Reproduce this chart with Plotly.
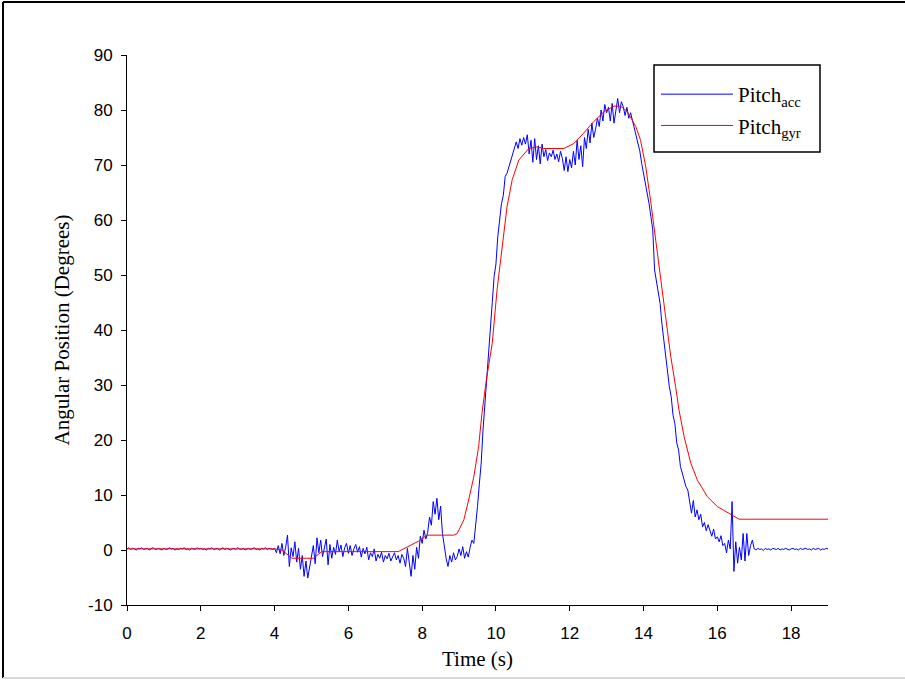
import plotly.graph_objects as go

# Sampling of the accelerometer trace: one sample every 0.05 s from 0 to 19 s
acc_t0 = 0.0
acc_dt = 0.05

pitch_acc = [
    # 0.00 - 3.95
    0.2, 0.4, 0.1, 0.3, 0.2, 0.0, 0.3, 0.2, 0.4, 0.1,
    0.2, 0.3, 0.0, 0.2, 0.4, 0.2, 0.1, 0.3, 0.2, 0.0,
    0.3, 0.1, 0.2, 0.4, 0.2, 0.3, 0.0, 0.2, 0.1, 0.3,
    0.2, 0.4, 0.1, 0.2, 0.0, 0.3, 0.2, 0.1, 0.4, 0.2,
    0.3, 0.1, 0.2, 0.0, 0.3, 0.2, 0.4, 0.1, 0.2, 0.3,
    0.0, 0.2, 0.4, 0.1, 0.3, 0.2, 0.0, 0.2, 0.3, 0.1,
    0.4, 0.2, 0.1, 0.3, 0.0, 0.2, 0.3, 0.1, 0.2, 0.4,
    0.1, 0.2, 0.0, 0.3, 0.2, 0.4, 0.1, 0.3, 0.2, 0.1,
    # 4.00 - 5.45
    0.3, -0.5, 0.8, -0.7, 1.2, -1.0, 0.5, 2.7, -3.0, 0.4,
    -1.2, 1.5, -2.2, 0.3, -3.5, -1.0, -4.8, -2.0, -5.1, -3.2,
    -1.5, 0.8, -2.5, 2.2, -0.5, 1.8, -1.2, 0.6, 2.0, -2.7,
    # 5.50 - 7.45
    1.0, -1.5, 0.5, -0.8, 1.8, -0.3, 0.9, -1.2, 0.4, 1.2,
    -0.6, 0.8, -1.0, 0.2, 1.0, -0.4, 0.6, -1.3, 0.3, -0.7,
    0.5, -1.8, -0.5, -1.2, 0.2, -2.0, -0.8, -1.5, -0.4, -2.2,
    -1.0, -1.6, -0.6, -2.0, -1.2, -0.5, -1.8, -1.0, -2.4, -0.8,
    # 7.50 - 9.45
    -1.5, -3.0, 0.3, -2.2, -4.8, -1.0, -3.5, 0.5, -1.5, 2.5,
    1.2, 3.6, 2.0, 3.2, 6.0, 4.5, 8.8, 6.5, 9.4, 5.5,
    8.0, 3.0, 0.5, -1.5, -3.0, -1.0, -2.2, -0.5, -1.8, -1.2,
    0.2, -1.0, 0.6, -1.5, -0.3, -1.3, 0.5, 1.8, 1.2, 4.0,
    # 9.50 - 10.45
    7.9, 12.0, 15.8, 21.8, 26.7, 30.9, 36.0, 42.0, 45.0, 49.7,
    52.0, 57.0, 60.0, 63.0, 64.5, 67.9, 68.5, 69.7, 71.0, 72.1,
    # 10.50 - 12.95
    73.5, 74.2, 73.0, 74.8, 73.6, 75.0, 73.8, 75.5, 72.0, 74.5,
    70.5, 74.8, 71.0, 73.5, 70.2, 73.8, 71.5, 72.8, 70.8, 72.2,
    71.5, 72.7, 71.0, 72.0, 70.6, 72.5, 71.2, 69.0, 71.5, 68.8,
    71.0, 69.5, 72.5, 70.0, 74.5, 71.0, 73.5, 69.7, 75.0, 73.0,
    76.5, 74.0, 77.6, 75.0, 76.5, 78.5, 77.0, 80.0, 78.0, 81.0,
    # 13.00 - 14.95
    79.5, 80.5, 78.0, 81.2, 77.6, 80.0, 82.1, 79.5, 81.5, 80.6,
    79.0, 80.5, 78.5, 79.5, 78.0, 76.4, 75.5, 74.0, 72.5, 70.3,
    68.5, 67.0, 65.5, 63.0, 60.6, 58.2, 50.9, 49.0, 47.3, 44.8,
    41.0, 38.2, 34.5, 31.5, 29.7, 27.9, 24.5, 23.0, 19.5, 18.2,
    # 15.00 - 16.95
    15.2, 14.0, 12.7, 11.5, 10.9, 8.5, 6.7, 9.0, 6.0, 7.3,
    5.5, 6.5, 4.2, 5.0, 3.5, 4.6, 3.6, 2.5, 3.8, 2.0,
    2.4, 1.5, 2.6, 0.8, 1.2, -0.5, 1.8, 0.2, 8.8, -3.9,
    1.5, -2.4, 0.5, -1.8, 3.0, -2.0, 3.0, -1.0, 0.8, 1.8,
    # 17.00 - 19.00
    0.2, 0.0, 0.3, 0.1, 0.2, -0.1, 0.3, 0.1, 0.2, 0.0,
    0.3, 0.2, 0.1, 0.3, 0.0, 0.2, 0.1, 0.3, 0.2, 0.0,
    0.2, 0.3, 0.1, 0.2, 0.0, 0.3, 0.1, 0.2, 0.3, 0.1,
    0.2, 0.0, 0.3, 0.1, 0.2, 0.3, 0.0, 0.2, 0.1, 0.3, 0.2,
]
time_acc = [round(acc_t0 + i * acc_dt, 2) for i in range(len(pitch_acc))]

time_gyr = [0.0, 4.0, 4.2, 4.35, 4.47, 5.05, 5.28, 7.35, 7.6, 7.9, 8.13, 8.85,
            8.95, 9.13, 9.26, 9.4, 9.53, 9.62, 9.74, 9.9, 10.03, 10.17, 10.3,
            10.44, 10.62, 10.89, 11.12, 11.29, 11.84, 12.11, 12.38, 12.65,
            12.93, 13.2, 13.38, 13.56, 13.79, 13.92, 14.06, 14.19, 14.33,
            14.46, 14.6, 14.74, 14.87, 14.96, 15.1, 15.28, 15.46, 15.73, 16.0,
            16.36, 16.59, 19.0]
pitch_gyr = [0.2, 0.2, 0.0, -0.8, -1.5, -1.5, -0.3, -0.3, 0.5, 1.6, 2.7, 2.7,
             3.0, 5.5, 9.1, 13.3, 18.8, 24.8, 30.9, 37.6, 47.3, 55.1, 62.4,
             67.3, 70.9, 73.0, 73.3, 73.0, 73.0, 73.9, 75.8, 77.9,
             79.7, 80.7, 80.7, 79.7, 77.0, 74.5, 69.7, 63.6, 56.4,
             49.7, 42.4, 35.1, 29.7, 25.5, 20.6, 15.8, 12.7, 9.7, 7.9,
             6.4, 5.6, 5.6]

x_ticks = [0, 2, 4, 6, 8, 10, 12, 14, 16, 18]
x_ticktext = ["0", "2", "4", "6", "8", "10", "12", "14", "16", "18"]
y_ticks = [-10, 0, 10, 20, 30, 40, 50, 60, 70, 80, 90]
y_ticktext = ["-10", "0", "10", "20", "30", "40", "50", "60", "70", "80", "90"]

fig = go.Figure()
fig.add_trace(go.Scatter(x=time_acc, y=pitch_acc, mode="lines",
                         line=dict(color="rgb(0,0,255)", width=1),
                         name="Pitch<sub>acc</sub>", legendgroup="a"))
fig.add_trace(go.Scatter(x=time_gyr, y=pitch_gyr, mode="lines",
                         line=dict(color="rgb(255,0,0)", width=1),
                         name="Pitch<sub>gyr</sub>", legendgroup="g"))

W, H = 905, 681
L, R, T, B = 127, 77, 55, 76
pw, ph = W - L - R, H - T - B

def px(x):
    return (x - L) / pw

def py(y):
    return (H - B - y) / ph

fig.update_layout(
    width=W, height=H,
    margin=dict(l=L, r=R, t=T, b=B, pad=0),
    paper_bgcolor="white", plot_bgcolor="white",
    showlegend=True,
    legend=dict(x=px(656), y=py(74), xanchor="left", yanchor="top",
                bgcolor="rgba(0,0,0,0)", borderwidth=0,
                font=dict(family="Liberation Serif", size=21, color="black"),
                tracegroupgap=1, itemwidth=72),
    xaxis=dict(range=[0, 19], tickvals=x_ticks, ticktext=x_ticktext,
               ticks="outside", ticklen=5, ticklabelstandoff=8,
               tickcolor="black", showline=True, linecolor="black", linewidth=1,
               showgrid=False, zeroline=False,
               tickfont=dict(family="Liberation Sans", size=17, color="black"),
               title=dict(text="Time (s)", standoff=8,
                          font=dict(family="Liberation Serif", size=21, color="black"))),
    yaxis=dict(range=[-10, 90], tickvals=y_ticks, ticktext=y_ticktext,
               ticks="outside", ticklen=5, ticklabelstandoff=5,
               tickcolor="black", showline=True, linecolor="black", linewidth=1,
               showgrid=False, zeroline=False,
               tickfont=dict(family="Liberation Sans", size=17, color="black"),
               title=dict(text="Angular Position (Degrees)", standoff=12,
                          font=dict(family="Liberation Serif", size=21, color="black"))),
)

# Legend frame
fig.add_shape(type="rect", xref="paper", yref="paper", layer="above",
              x0=px(654), x1=px(820), y0=py(65), y1=py(152),
              fillcolor="white", line=dict(color="black", width=1.5))

# Figure frame (window border)
fig.add_shape(type="line", xref="paper", yref="paper",
              x0=px(3), x1=px(3), y0=py(2), y1=py(678),
              line=dict(color="black", width=2))
fig.add_shape(type="line", xref="paper", yref="paper",
              x0=px(3), x1=px(905), y0=py(2), y1=py(2),
              line=dict(color="black", width=2))
fig.add_shape(type="line", xref="paper", yref="paper",
              x0=px(3), x1=px(905), y0=py(678), y1=py(678),
              line=dict(color="#d8d8d8", width=2))

fig.write_html("out.html")
